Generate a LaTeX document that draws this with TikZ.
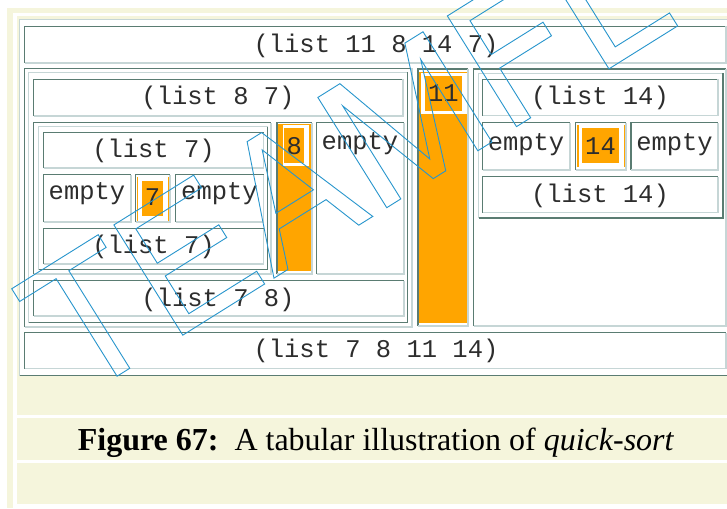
\documentclass[tikz,border=0pt]{standalone}
\usepackage{fontspec}
\setmainfont{Liberation Serif}
\setmonofont{Liberation Mono}
\definecolor{pagebeige}{HTML}{F5F5DC}
\definecolor{rimdark}{RGB}{90,124,114}
\definecolor{rimlight}{RGB}{198,214,214}
\definecolor{pivot}{HTML}{FFA500}
\definecolor{inkgray}{RGB}{45,45,45}
\definecolor{wmblue}{RGB}{40,150,205}
\frenchspacing
\begin{document}
\begin{tikzpicture}[x=1pt,y=-1pt,
    dark/.style={draw=rimdark,line width=1.7pt},
    light/.style={draw=rimlight,line width=1.7pt},
    celltext/.style={anchor=base,inner sep=0pt,text=inkgray,
      font=\ttfamily\fontsize{25.5}{25.5}\selectfont},
    wmark/.style={draw=wmblue,line width=0.9pt,line join=miter}]
    \useasboundingbox (0,0) rectangle (727,508);
    % page background
    \fill[white] (0,0) rectangle (727,508);
    \fill[pagebeige] (7,8) rectangle (727,508);
    \fill[white] (13,13) rectangle (727,508);
    \fill[pagebeige] (16.7,16.3) rectangle (727,415);
    \fill[pagebeige] (16.7,417.7) rectangle (727,460);
    \fill[pagebeige] (16.7,462.7) rectangle (727,504);
    \fill[white] (19.5,19.5) rectangle (730,375.5);
    % tables (outset rims)
    \foreach \xa/\ya/\xb/\yb in {19.5/19.5/730/375.5, 28.5/72.5/407.5/322.5,
        38.5/126.5/267.5/269.5, 478.5/73.5/723/218}{
      \draw[light] (\xa,\yb) |- (\xb,\ya);
      \draw[dark] (\xa,\yb) -| (\xb,\ya);
    }
    % cells (inset rims)
    \foreach \xa/\ya/\xb/\yb in {24.5/26.5/726/63, 24.5/68.5/412/327,
        418/69/468/326, 473.5/69/726/326, 24.5/332.5/726/368.5,
        33.5/79.5/403/116, 33.5/122.5/271/274, 277/122.5/312/274,
        316.5/122.5/404/274, 33.5/280.5/404/316,
        43.5/132.5/263.5/168, 43.5/174.5/131/222, 135.5/174.5/170/222,
        175.5/174.5/263.5/222, 43.5/228.5/263.5/264,
        482.5/79.5/718/115.5, 482.5/122.5/570/170, 575.5/122.5/626/170,
        631/122.5/718/170, 482.5/176.5/718/212.5}{
      \draw[dark] (\xa,\yb) |- (\xb,\ya);
      \draw[light] (\xa,\yb) -| (\xb,\ya);
    }
    % pivot cells
    \fill[pivot] (136.7,177) rectangle (169.3,220.5);
    \fill[white] (138.3,176) rectangle (168.3,221);
    \fill[pivot] (141.7,181) rectangle (163.3,216);
    \fill[pivot] (577.3,125) rectangle (625.3,167);
    \fill[white] (578.7,124) rectangle (624,168);
    \fill[pivot] (582,127.7) rectangle (619,162.7);
    \fill[pivot] (277.7,124) rectangle (310.5,271);
    \fill[white] (282.7,125) rectangle (309.3,166);
    \fill[pivot] (284.3,128.3) rectangle (304.3,162.7);
    \fill[pivot] (419.3,72) rectangle (467,323);
    \fill[white] (420.7,72.7) rectangle (466.7,114.3);
    \fill[pivot] (425,76) rectangle (461.7,111);
    % cell texts
    \node[celltext] (whole) at (376,53) {(list 11 8 14 7)};
    \node[celltext] (lowin) at (218,105) {(list 8 7)};
    \node[celltext] (sevenin) at (153.5,157) {(list 7)};
    \node[celltext] (sevenleft) at (87,199) {empty};
    \node[celltext] (pivseven) at (152.5,205) {7};
    \node[celltext] (sevenright) at (219.5,199) {empty};
    \node[celltext] (sevenout) at (153.5,253) {(list 7)};
    \node[celltext] (piveight) at (294.3,154) {8};
    \node[celltext] (eightright) at (360,149) {empty};
    \node[celltext] (lowout) at (218,306) {(list 7 8)};
    \node[celltext] (piveleven) at (443.3,102) {11};
    \node[celltext] (highin) at (600,105) {(list 14)};
    \node[celltext] (fourleft) at (526,150) {empty};
    \node[celltext] (pivfourteen) at (600.5,154) {14};
    \node[celltext] (fourright) at (674.5,150) {empty};
    \node[celltext] (highout) at (600,202) {(list 14)};
    \node[celltext] (sorted) at (376,357) {(list 7 8 11 14)};
    % caption
    \node[anchor=base,inner sep=0pt,font=\fontsize{32}{32}\selectfont]
      (caption) at (376,450) {\textbf{Figure 67:}\ \ A tabular illustration of \textit{quick-sort}};
    % watermark outline letters
    \begin{scope}
    \clip (0,0) rectangle (727,508);
    \begin{scope}[shift={(80.6pt,-399pt)},x=1pt,y=1pt,rotate=32]
      \draw[wmark] (0,115) -- (0,130) -- (102,130) -- (102,115) -- (58,115)
        -- (58,0) -- (43,0) -- (43,115) -- cycle;
      \draw[wmark] (120.5,0) -- (120.5,130) -- (214.5,130) -- (214.5,115)
        -- (137,115) -- (137,74.5) -- (209.5,74.5) -- (209.5,59.5)
        -- (137,59.5) -- (137,15) -- (217,15) -- (217,0) -- cycle;
      \draw[wmark] (228,0) -- (277.6,130) -- (294.7,130) -- (344.5,0)
        -- (328,0) -- (313.8,39) -- (258.6,39) -- (244.5,0) -- cycle;
      \draw[wmark] (264,54) -- (286,115) -- (308.3,54) -- cycle;
      \draw[wmark] (361,0) -- (361,130) -- (387,130) -- (423.3,18.5)
        -- (463.6,130) -- (485,130) -- (485,0) -- (468.4,0) -- (468.4,107.8)
        -- (430.6,0) -- (415.8,0) -- (377.6,109.6) -- (377.6,0) -- cycle;
      \draw[wmark] (514,0) -- (514,130.5) -- (600,130.5) -- (600,114.5)
        -- (530.7,114.5) -- (530.7,74.5) -- (591.8,74.5) -- (591.8,58.5)
        -- (530.7,58.5) -- (530.7,0) -- cycle;
      \draw[wmark] (623,0) -- (623,130) -- (640,130) -- (640,15.3)
        -- (704,15.3) -- (704,0) -- cycle;
    \end{scope}
    \end{scope}
\end{tikzpicture}
\end{document}
